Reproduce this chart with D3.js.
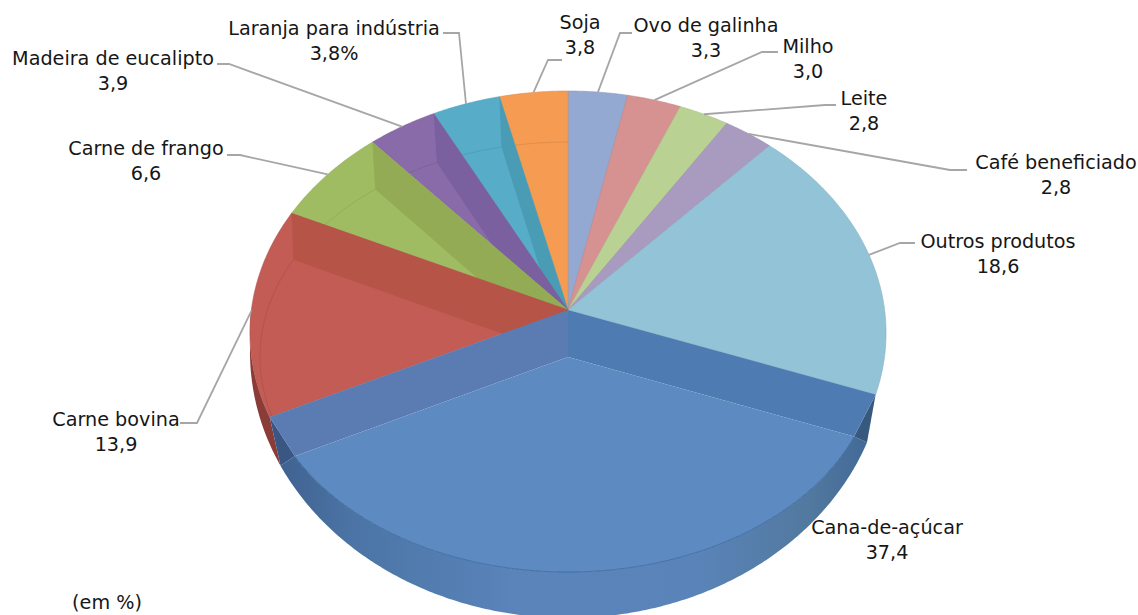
<!DOCTYPE html>
<html lang="pt">
<head>
<meta charset="utf-8">
<title>Valor da produção agropecuária</title>
<script src="https://cdn.jsdelivr.net/npm/d3@7/dist/d3.min.js"></script>
<style>
  html, body { margin: 0; padding: 0; background: #fff; }
  svg { display: block; }
  text { font-family: "DejaVu Sans", sans-serif; font-size: 19.2px; fill: #161616; text-anchor: middle; }
</style>
</head>
<body>
<svg id="chart" width="1138" height="615"></svg>
<script>
// Slices run clockwise from twelve o'clock.
const categories = ["Ovo de galinha", "Milho", "Leite", "Café beneficiado", "Outros produtos",
  "Cana-de-açúcar", "Carne bovina", "Carne de frango", "Madeira de eucalipto",
  "Laranja para indústria", "Soja"];
const values = [3.3, 3.0, 2.8, 2.8, 18.6, 37.4, 13.9, 6.6, 3.9, 3.8, 3.8];
const valueSuffix = ["", "", "", "", "", "", "", "", "", "%", ""];
const faceColors = ["#94a9d2", "#d69191", "#bad194", "#a99bc0", "#93c3d6",
  "#5c8ac1", "#c25c55", "#a0bc62", "#8a6ba9", "#57adc8", "#f59b52"];
const wallColors = ["#94a9d2", "#d69191", "#bad194", "#a99bc0", "#93c3d6",
  "#4d7bb2", "#b65547", "#93ab54", "#7a609f", "#4a9cb5", "#f59b52"];

// Label placement: centre x, first line y, elbow x, elbow y, line start x.
const labelX = [706, 808, 864, 1056, 998, 887, 116, 146, 113, 334, 580];
const labelY = [32, 53, 105, 169, 248, 534, 426, 155, 65, 35, 29];
const elbowX = [620, 762, 825, 950, 900, null, 197, 240, 229, 459, 548];
const elbowY = [33, 52, 105, 170, 243, null, 423, 155, 64, 33, 60];
const startX = [632, 778, 836, 967, 915, null, 180, 227, 217, 443, 562];

const svg = d3.select("#chart");
const cx = 568;

// Upper disc, seen in perspective, with its apex above the ellipse centre.
const topApexY = 310, topA = 316.6, topB = 239.8, topK = 0.095;
const O = a => {
  const u = Math.sin(a), v = -Math.cos(a), w = 1 - topK * v;
  return [cx + topA * u / w, topApexY + topB * v / w];
};

// Lower disc: the base each slice's floor sits on.
const lowApexY = 357, lowRx = 308, lowRy = 215, lowStretch = 1.1;
const I = a => {
  const u = Math.sin(a), v = -Math.cos(a) * lowStretch, n = Math.hypot(u, v);
  return [cx + lowRx * u / n, lowApexY + lowRy * v / n];
};

// Outer silhouette of the cylinder's side.
const S = a => [cx + 318 * Math.sin(a), 352 - 266 * Math.cos(a)];

const A = [cx, topApexY], B = [cx, lowApexY];
const arcPts = (fn, a0, a1) => {
  const n = Math.max(2, Math.ceil(Math.abs(a1 - a0) / 0.01));
  return d3.range(n + 1).map(i => fn(a0 + (a1 - a0) * i / n));
};
const closed = d3.line().curve(d3.curveLinearClosed);
const open = d3.line();

const slices = d3.pie().sort(null).value(d => d)(values);
const canaIndex = categories.indexOf("Cana-de-açúcar");
const cana = slices[canaIndex];
const bovina = slices[canaIndex + 1];

const defs = svg.append("defs");
const sideGrad = defs.append("linearGradient")
  .attr("id", "sideShade").attr("gradientUnits", "userSpaceOnUse")
  .attr("x1", 270).attr("x2", 880).attr("y1", 0).attr("y2", 0);
[[0, "#3e5f8e"], [0.14, "#4c75a6"], [0.4, "#5a84ba"], [0.7, "#5a84b9"], [0.88, "#52799f"], [1, "#3f6796"]]
  .forEach(([o, c]) => sideGrad.append("stop").attr("offset", o).attr("stop-color", c));

// Thin outer wall peeking out beside the front slice.
svg.append("path")
  .attr("d", closed(arcPts(O, bovina.startAngle, 3 * Math.PI / 2)
    .concat(arcPts(S, 3 * Math.PI / 2, bovina.startAngle))))
  .attr("fill", "#8a3d38");

const sector = (s, i) => svg.append("path")
  .attr("d", closed([A].concat(arcPts(O, s.startAngle, s.endAngle))))
  .attr("fill", faceColors[i])
  .attr("stroke", d3.color(faceColors[i]).darker(0.25))
  .attr("stroke-width", 0.6);

// Back-right slices show no cut walls.
slices.slice(0, canaIndex).forEach((s, i) => sector(s, i));

// Back-left slices are painted from the top downwards so each one covers
// the hidden part of the wall drawn before it.
d3.range(slices.length - 1, canaIndex, -1).forEach(i => {
  const s = slices[i];
  sector(s, i);
  svg.append("path")
    .attr("d", closed([A, O(s.endAngle), I(s.endAngle), B]))
    .attr("fill", wallColors[i]);
  svg.append("path")
    .attr("d", open(arcPts(I, s.startAngle, s.endAngle)))
    .attr("fill", "none")
    .attr("stroke", d3.color(faceColors[i]).darker(0.7))
    .attr("stroke-opacity", 0.55)
    .attr("stroke-width", 0.7);
});

// Front slice: side band, corner facets, cut walls and floor.
svg.append("path")
  .attr("d", closed(arcPts(I, cana.startAngle, cana.endAngle).concat(arcPts(S, cana.endAngle, cana.startAngle))))
  .attr("fill", "url(#sideShade)");
svg.append("path")
  .attr("d", closed([O(cana.startAngle), S(cana.startAngle), I(cana.startAngle)]))
  .attr("fill", "#37597f");
svg.append("path")
  .attr("d", closed([O(cana.endAngle), S(cana.endAngle), I(cana.endAngle)]))
  .attr("fill", "#3a5784");
svg.append("path")
  .attr("d", closed([A, O(cana.startAngle), I(cana.startAngle), B]))
  .attr("fill", "#4d7bb2");
svg.append("path")
  .attr("d", closed([A, O(cana.endAngle), I(cana.endAngle), B]))
  .attr("fill", "#5a7cb3");
svg.append("path")
  .attr("d", closed([B].concat(arcPts(I, cana.startAngle, cana.endAngle))))
  .attr("fill", faceColors[canaIndex]);
svg.append("path")
  .attr("d", open(arcPts(I, cana.startAngle, cana.endAngle)))
  .attr("fill", "none").attr("stroke", "#3f6fa6").attr("stroke-width", 1);

// Leader lines run from each label to the middle of its slice's rim.
slices.forEach((s, i) => {
  if (elbowX[i] === null) return;
  const mid = (s.startAngle + s.endAngle) / 2;
  svg.append("path")
    .attr("d", open([[startX[i], elbowY[i]], [elbowX[i], elbowY[i]], O(mid)]))
    .attr("fill", "none")
    .attr("stroke", "#a6a6a6")
    .attr("stroke-width", 1.8);
});

const fmt = d3.format(".1f");
categories.forEach((name, i) => {
  svg.append("text").attr("x", labelX[i]).attr("y", labelY[i]).text(name);
  svg.append("text").attr("x", labelX[i]).attr("y", labelY[i] + 25)
    .text(fmt(values[i]).replace(".", ",") + valueSuffix[i]);
});

svg.append("text").attr("x", 107).attr("y", 609).text("(em %)");
</script>
</body>
</html>
